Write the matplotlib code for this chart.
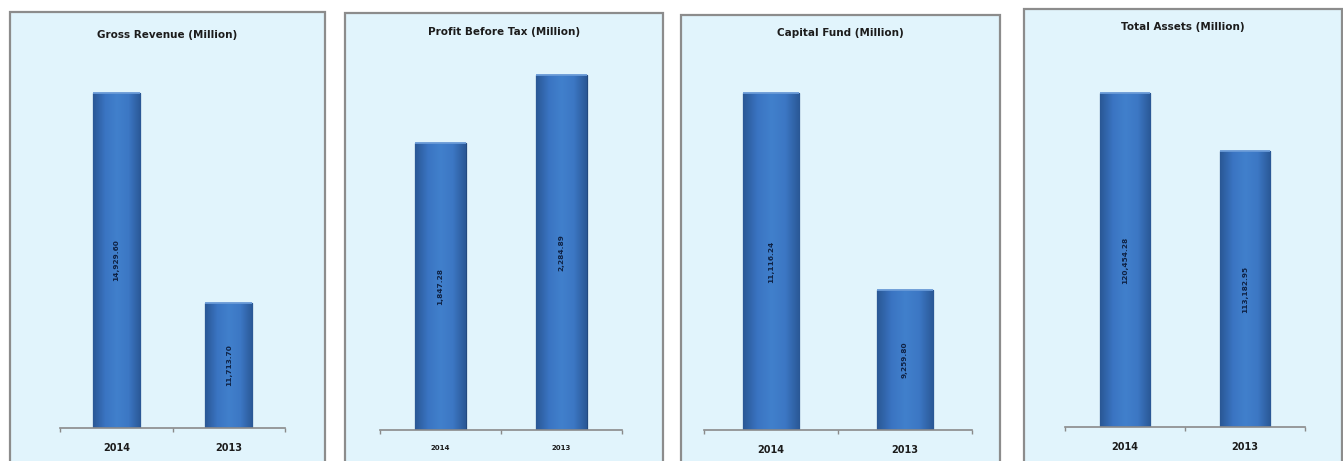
import numpy as np
import matplotlib.pyplot as plt
from matplotlib.patches import Rectangle
from matplotlib.colors import LinearSegmentedColormap

years = ['2014', '2013']
titles = ['Gross Revenue (Million)', 'Profit Before Tax (Million)',
          'Capital Fund (Million)', 'Total Assets (Million)']
gross_revenue = [14929.60, 11713.70]
profit_before_tax = [1847.28, 2284.89]
capital_fund = [11116.24, 9259.80]
total_assets = [120454.28, 113182.95]
series = [gross_revenue, profit_before_tax, capital_fund, total_assets]

# value-axis ranges, most of these charts don't start at zero
y_ranges = [(9800, 15435), (0, 2380), (7940, 11430), (78600, 124600)]

# layout in pixels
W, H = 1343, 461
panel_boxes = [(10, 325, 12), (345, 663, 13), (681, 1000, 15), (1024, 1342, 9)]   # left, right, top
plot_boxes = [(60, 285, 428), (380, 622, 430), (704, 972, 430), (1065, 1305, 427)]  # left, right, baseline
title_y = [35, 32, 33, 27]
tick_size = [7, 5, 7, 7]
plot_top = 60

panel_fill = '#e1f4fc'
panel_edge = '#8c8c8c'
bar_cmap = LinearSegmentedColormap.from_list(
    'bar', ['#2a5896', '#3a74c2', '#4180cc', '#3c77c4', '#2a5896'])

fig = plt.figure(figsize=(W / 100, H / 100), dpi=100)
fig.patch.set_facecolor('white')

for i in range(4):
    pl, pr, pt = panel_boxes[i]
    fig.add_artist(Rectangle((pl / W, -0.05), (pr - pl) / W, (H - pt) / H + 0.05,
                             transform=fig.transFigure, facecolor=panel_fill,
                             edgecolor=panel_edge, linewidth=1.6, zorder=0))
    fig.text((pl + pr) / 2 / W, 1 - title_y[i] / H, titles[i], ha='center', va='center',
             fontsize=7.5, fontweight='bold', color='#1c1c1c', family='DejaVu Sans')

    al, ar, base = plot_boxes[i]
    ax = fig.add_axes([al / W, (H - base) / H, (ar - al) / W, (base - plot_top) / H])
    ax.set_facecolor('none')
    lo, hi = y_ranges[i]

    vals = series[i]
    bars = ax.bar(range(len(years)), vals, width=0.42, color='#3a74c2',
                  edgecolor='#22497f', linewidth=0.9, zorder=2)
    grad = np.linspace(0, 1, 64).reshape(1, -1)
    for b, v in zip(bars, vals):
        x0 = b.get_x()
        im = ax.imshow(grad, cmap=bar_cmap, aspect='auto', zorder=2.5,
                       extent=(x0, x0 + b.get_width(), lo, v))
        im.set_clip_path(b)
        # lighter cap along the top of each bar
        ax.plot([x0, x0 + b.get_width()], [v, v], color='#6a9bd8', lw=1.3,
                zorder=3, solid_capstyle='butt')
        ax.text(x0 + b.get_width() / 2, (v + lo) / 2, f'{v:,.2f}', rotation=90,
                ha='center', va='center', fontsize=5.3, fontweight='bold',
                color='#0f2244', zorder=4)
    ax.set_xlim(-0.5, 1.5)
    ax.set_ylim(lo, hi)

    for s in ['top', 'right', 'left']:
        ax.spines[s].set_visible(False)
    ax.spines['bottom'].set_color('#8a8a8a')
    ax.spines['bottom'].set_linewidth(1.2)
    ax.set_yticks([])
    ax.set_xticks([-0.5, 0.5, 1.5])
    ax.set_xticklabels([])
    ax.tick_params(axis='x', length=3, color='#8a8a8a', width=1)
    ax.set_xticks(range(len(years)), minor=True)
    ax.set_xticklabels(years, minor=True, fontsize=tick_size[i], fontweight='bold',
                       color='#1c1c1c')
    ax.tick_params(axis='x', which='minor', length=0, pad=11)

fig.savefig('out.png', dpi=100)
